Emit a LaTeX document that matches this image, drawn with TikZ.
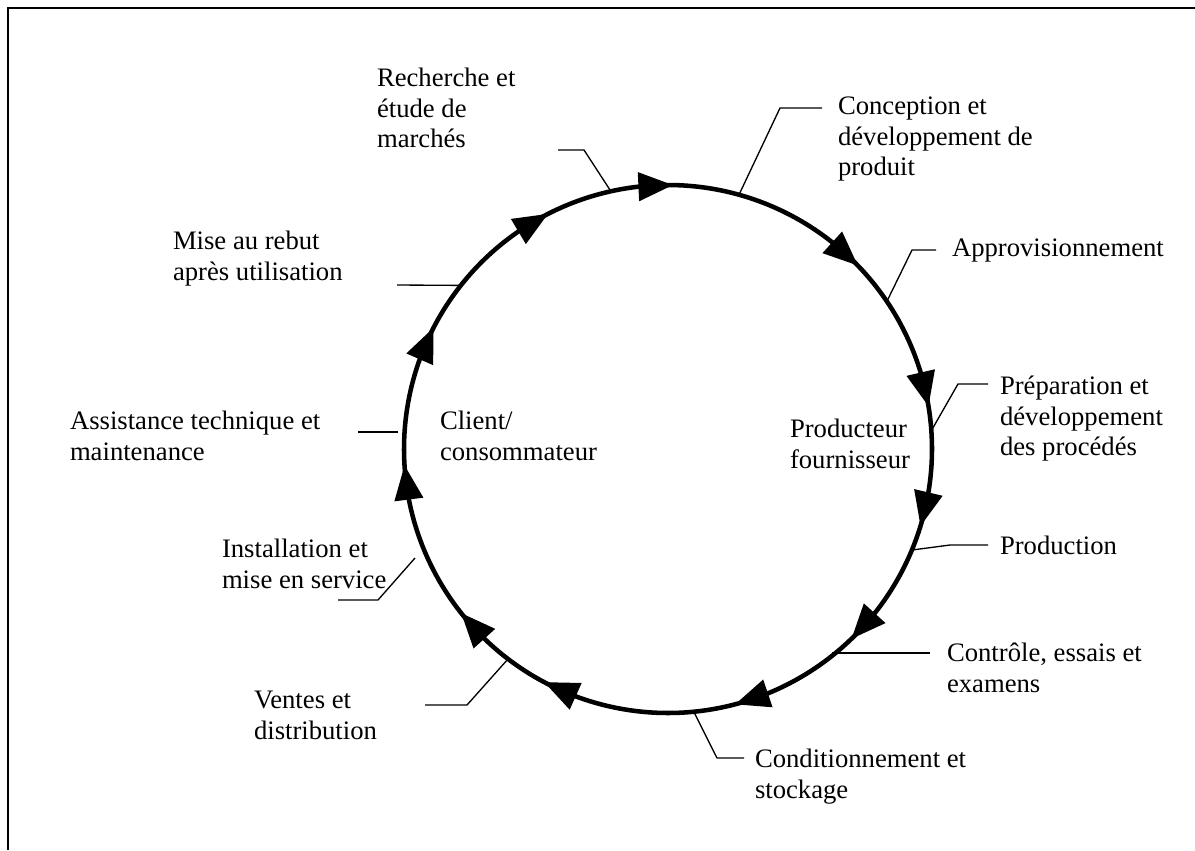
\documentclass[tikz,border=0pt]{standalone}
\usepackage{fontspec}
\setmainfont{Liberation Serif}
\usepackage{tikz}
\usetikzlibrary{arrows.meta,bending}

\begin{document}
\begin{tikzpicture}[x=0.75pt,y=0.75pt,
        ring/.style={line width=3.4pt,-{Triangle[length=26pt,width=21pt]}},
        leader/.style={line width=1pt},
        lbl/.style={anchor=north west,inner sep=0pt,outer sep=0pt,align=left,
            font=\fontsize{20}{23}\selectfont}]
                \useasboundingbox (0,0) rectangle (1195,-850);
                \draw[line width=1.8pt] (8,-850) -- (8,-8) -- (1195,-8);

                \coordinate (c) at (668,-449);
                \foreach \s/\e in {90.4/44, 45.5/9.3, 10.8/-17, -15.5/-46, -44.5/-75.3,
                    -73.8/-118, -116.5/-141.6, -140.1/-176.5, -175/-207.4,
                    -205.9/-243, -241.5/-271.1}
                    \draw[ring] ([shift={(\s:264)}]c) arc[start angle=\s, end angle=\e, radius=264];

                \node[lbl] (rech) at (377,-68) {Recherche et\\étude de\\marchés};
                \node[lbl] (conc) at (838,-97) {Conception et\\développement de\\produit};
                \node[lbl] (appro) at (952,-239) {Approvisionnement};
                \node[lbl] (prep) at (1000,-376) {Préparation et\\développement\\des procédés};
                \node[lbl] (prodn) at (1000,-536) {Production};
                \node[lbl] (ctrl) at (947,-643) {Contrôle, essais et\\examens};
                \node[lbl] (cond) at (755,-749) {Conditionnement et\\stockage};
                \node[lbl] (vent) at (254,-691) {Ventes et\\distribution};
                \node[lbl] (inst) at (222,-539) {Installation et\\mise en service};
                \node[lbl] (assist) at (70,-411) {Assistance technique et\\maintenance};
                \node[lbl] (rebut) at (173,-231) {Mise au rebut\\après utilisation};
                \node[lbl] (client) at (440,-411) {Client/\\consommateur};
                \node[lbl] (fourn) at (790,-419) {Producteur\\fournisseur};

                % leaders from the ring to the labels
                \coordinate (rechA) at ([shift={(102.5:264)}]c);
                \coordinate (rechB) at (584,-150);
                \coordinate (rechE) at (558,-150);
                \coordinate (concA) at ([shift={(74.4:264)}]c);
                \coordinate (concB) at (780,-108);
                \coordinate (concE) at (822,-108);
                \coordinate (approA) at ([shift={(34:264)}]c);
                \coordinate (approB) at (912,-250);
                \coordinate (approE) at (936,-250);
                \coordinate (prepA) at ([shift={(4:264)}]c);
                \coordinate (prepB) at (958,-384);
                \coordinate (prepE) at (988,-384);
                \coordinate (prodnA) at ([shift={(-22.5:264)}]c);
                \coordinate (prodnB) at (950,-545);
                \coordinate (prodnE) at (988,-545);
                \coordinate (ctrlA) at (832,-653);
                \coordinate (ctrlE) at (930,-653);
                \coordinate (condA) at ([shift={(-84.4:264)}]c);
                \coordinate (condB) at (717,-758);
                \coordinate (condE) at (744,-758);
                \coordinate (ventA) at ([shift={(-127.3:264)}]c);
                \coordinate (ventB) at (467,-705);
                \coordinate (ventE) at (425,-705);
                \coordinate (instA) at (415,-558);
                \coordinate (instB) at (378,-600);
                \coordinate (instE) at (338,-600);
                \coordinate (assistA) at (398,-432);
                \coordinate (assistE) at (358,-432);
                \coordinate (rebutA) at ([shift={(141.7:264)}]c);
                \coordinate (rebutE) at (397,-285);

                \draw[leader] (rechA) -- (rechB) -- (rechE);
                \draw[leader] (concA) -- (concB) -- (concE);
                \draw[leader] (approA) -- (approB) -- (approE);
                \draw[leader] (prepA) -- (prepB) -- (prepE);
                \draw[leader] (prodnA) -- (prodnB) -- (prodnE);
                \draw[leader] (ctrlA) -- (ctrlE);
                \draw[leader] (condA) -- (condB) -- (condE);
                \draw[leader] (ventA) -- (ventB) -- (ventE);
                \draw[leader] (instA) -- (instB) -- (instE);
                \draw[leader] (assistA) -- (assistE);
                \draw[leader] (rebutA) -- (rebutE);
            \end{tikzpicture}
\end{document}
